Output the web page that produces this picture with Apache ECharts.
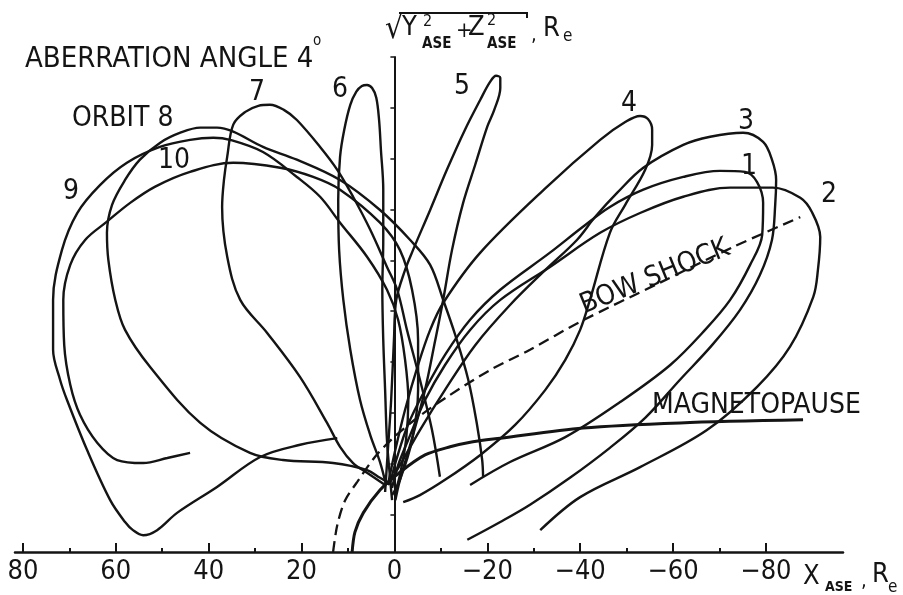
<!DOCTYPE html>
<html><head><meta charset="utf-8">
<script src="https://cdn.jsdelivr.net/npm/echarts@6/dist/echarts.min.js"></script>
<style>html,body{margin:0;padding:0;background:#fff}#c{width:903px;height:595px}</style>
</head><body><div id="c"></div>
<script>
const FONT = "'DejaVu Sans Condensed','Liberation Sans Narrow','Arial Narrow',sans-serif";
const INK = '#141414';

// axis ticks / labels
const xMajorTicks = [80, 60, 40, 20, 0, -20, -40, -60, -80];
const xMinorTicks = [70, 50, 30, 10, -10, -30, -50, -70];
const yTicks = [7.4, 17.4, 27.4, 37.4, 47.4, 57.4, 67.4, 77.4, 87.4, 97.4];

// orbit traces: [X_ASE, sqrt(Y^2+Z^2)] in Re
const orbit1 = [[0.9,13.6],[-0.4,18.1],[-2.9,25.0],[-6.6,31.9],[-10.9,38.8],[-16.3,45.7],[-22.8,51.6],[-33.5,58.9],[-40.6,64.0],[-46.4,67.9],[-53.6,71.3],[-62.2,73.8],[-70.1,75.0],[-75.5,74.8],[-78.1,72.8],[-79.4,68.7],[-79.2,62.4],[-76.6,56.5],[-72.3,49.6],[-66.9,43.7],[-59.4,36.8],[-48.6,29.5],[-36.8,22.6],[-24.9,17.7],[-16.3,13.2]];
const orbit2 = [[0.5,12.6],[-0.8,17.1],[-3.4,23.0],[-6.6,29.9],[-10.9,36.8],[-16.3,43.7],[-22.8,49.6],[-33.5,56.1],[-44.3,62.8],[-52.9,66.7],[-62.2,69.9],[-72.3,71.7],[-81.5,71.7],[-87.4,69.7],[-89.9,66.9],[-91.7,62.0],[-91.2,55.5],[-90.2,50.2],[-85.2,40.4],[-78.1,32.5],[-67.3,24.0],[-52.9,16.7],[-40.0,10.8],[-31.4,4.3]];
const orbit3 = [[1.4,13.2],[-1.2,17.1],[-5.5,24.0],[-10.9,31.9],[-17.4,40.7],[-24.9,48.6],[-32.5,55.5],[-39.3,61.4],[-43.2,65.9],[-48.0,70.7],[-53.6,75.6],[-62.2,80.1],[-68.0,81.7],[-75.1,82.5],[-79.4,80.7],[-81.3,77.2],[-82.2,73.2],[-82.0,68.3],[-81.3,61.4],[-78.7,54.5],[-74.4,47.6],[-68.4,40.7],[-61.5,33.9],[-54.0,26.4],[-46.4,20.5],[-37.8,14.6],[-29.2,9.3],[-22.8,5.9],[-15.7,2.4]];
const orbit4 = [[1.4,13.2],[-0.2,20.1],[-2.3,28.0],[-5.1,36.8],[-7.7,43.7],[-10.5,49.0],[-18.5,58.9],[-32.9,71.9],[-44.3,81.1],[-49.7,84.6],[-52.9,85.8],[-54.6,85.2],[-55.5,83.1],[-55.5,80.1],[-54.0,75.2],[-49.7,68.3],[-46.4,62.8],[-42.1,49.6],[-40.0,43.7],[-36.8,37.8],[-32.5,31.9],[-26.0,25.0],[-18.5,19.1],[-10.9,14.2],[-5.5,11.2],[-1.9,9.8]];
const orbit5 = [[2.0,11.8],[1.4,20.1],[0.7,29.9],[0.1,41.7],[-0.4,49.6],[-2.3,55.5],[-4.0,59.4],[-7.7,67.3],[-11.3,75.2],[-15.2,83.1],[-18.5,89.0],[-20.6,92.5],[-21.9,93.7],[-22.8,93.3],[-22.8,91.3],[-21.5,87.0],[-20.0,83.7],[-17.4,76.2],[-14.8,68.7],[-12.4,59.4],[-10.5,49.6],[-8.8,41.7],[-6.6,31.9],[-4.0,23.0],[-1.2,14.2],[-0.2,10.2]];
const orbit6 = [[1.8,13.2],[3.1,17.7],[5.2,23.0],[7.4,29.9],[9.5,39.8],[11.0,49.6],[11.9,59.4],[12.1,69.3],[11.7,77.8],[10.8,83.1],[9.5,88.0],[8.2,90.6],[7.0,91.7],[5.9,91.9],[4.8,91.3],[3.9,89.4],[3.3,85.0],[2.9,79.1],[2.4,71.3],[2.4,61.4],[2.6,51.6],[2.4,41.7],[2.0,31.9],[1.6,22.0],[0.9,14.2],[0.5,10.2]];
const orbit7 = [[2.0,13.2],[5.9,15.6],[8.9,17.5],[11.7,20.7],[14.5,25.4],[20.3,34.4],[27.4,43.1],[33.2,49.6],[36.0,58.1],[37.1,67.9],[36.7,73.2],[36.0,77.8],[34.7,84.1],[32.1,86.6],[29.3,87.8],[26.8,88.0],[23.8,87.0],[21.0,85.0],[16.0,79.7],[12.3,75.2],[8.9,69.9],[5.2,63.4],[1.6,56.1],[-0.6,51.6],[-2.7,43.7],[-5.5,33.9],[-8.1,24.0],[-9.8,14.8]];
const orbit8 = [[0.5,13.2],[3.1,14.6],[5.9,16.1],[13.2,17.5],[24.0,18.1],[31.1,19.5],[41.8,25.4],[52.6,36.4],[58.0,43.7],[60.1,49.6],[61.6,57.5],[61.9,62.8],[60.8,68.3],[58.0,73.2],[54.8,77.2],[50.5,80.5],[46.1,82.5],[41.8,83.5],[38.2,83.5],[34.7,82.7],[28.3,79.7],[21.0,77.2],[11.7,73.2],[3.1,67.3],[-3.4,61.4],[-7.7,56.5],[-10.5,49.6],[-13.1,42.7],[-15.9,33.9],[-17.8,25.0],[-18.9,18.1],[-19.1,14.8]];
const orbit9 = [[-0.2,11.8],[-1.2,15.2],[-2.5,22.0],[-3.0,29.9],[-2.3,37.8],[-0.8,45.7],[1.6,51.6],[5.9,58.1],[11.7,64.8],[16.0,69.9],[21.0,73.8],[28.3,78.7],[35.4,81.1],[39.0,81.5],[44.0,81.1],[50.5,79.7],[57.6,76.6],[63.4,72.2],[68.3,66.7],[71.6,59.4],[73.5,49.6],[73.5,39.8],[72.0,33.9],[70.5,29.9],[66.2,20.1],[61.2,10.2],[58.0,5.9],[56.3,4.3],[54.1,3.3],[51.1,4.3],[46.8,7.7],[38.2,12.8],[28.9,18.7],[20.3,21.1],[12.3,22.4]];
const orbit10 = [[44.0,19.5],[48.9,18.5],[54.1,17.5],[59.7,18.1],[64.0,21.5],[67.7,27.0],[69.8,32.9],[71.1,40.7],[71.3,49.6],[69.8,56.5],[66.6,61.4],[61.9,65.0],[56.9,68.7],[51.5,71.9],[44.0,74.8],[34.7,76.6],[24.6,75.6],[17.5,73.8],[11.7,71.3],[3.1,64.8],[-1.2,59.4],[-3.8,51.6],[-5.1,41.7],[-5.1,31.9],[-3.8,22.0],[-1.2,14.2],[0.5,11.2]];
const bowShock = [[13.2,0],[12.3,5.3],[10.6,10.2],[8.0,13.8],[4.2,18.7],[0.1,22.6],[-5.5,26.8],[-11.3,30.5],[-20.6,35.8],[-29.2,39.8],[-40.0,45.3],[-57.2,53.0],[-72.9,60.0],[-87.4,65.9]];
const magnetopause = [[9.1,0],[8.5,3.9],[6.7,7.7],[3.1,12.2],[-1.2,15.7],[-6.6,19.1],[-12.0,20.7],[-16.9,21.7],[-22.8,22.4],[-40.6,24.4],[-61.5,25.4],[-88.0,26.0]];

const orbits = [
  ['Orbit 1', orbit1], ['Orbit 2', orbit2], ['Orbit 3', orbit3], ['Orbit 4', orbit4], ['Orbit 5', orbit5],
  ['Orbit 6', orbit6], ['Orbit 7', orbit7], ['Orbit 8', orbit8], ['Orbit 9', orbit9], ['Orbit 10', orbit10]
];

function fmt(v) { return v < 0 ? '\u2212' + (-v) : String(v); }

const series = orbits.map(([name, data]) => ({
  name, type: 'line', data, symbol: 'none', smooth: 0.35, clip: false,
  lineStyle: { color: INK, width: 2.4 }, silent: true
}));
series.push({ name: 'Bow shock', type: 'line', data: bowShock, symbol: 'none', smooth: 0.3,
  lineStyle: { color: INK, width: 2.3, type: [11, 6] }, silent: true });
series.push({ name: 'Magnetopause', type: 'line', data: magnetopause, symbol: 'none', smooth: 0.3,
  lineStyle: { color: INK, width: 3 }, silent: true });

function T(text, x, y, size, o) {
  o = o || {};
  return { type: 'text', x, y, rotation: o.rot || 0, z: 100,
    style: { text, fill: INK, font: (o.bold ? 'bold ' : '') + size + 'px ' + FONT,
      align: o.align || 'left', verticalAlign: 'middle' } };
}

const graphic = [
  T('ABERRATION ANGLE 4', 25, 59, 29),
  T('o', 313, 41, 15),
  T('ORBIT 8', 72, 119, 28),
  T('7', 257, 93, 28, {align:'center'}),
  T('6', 340, 90, 28, {align:'center'}),
  T('5', 462, 87, 28, {align:'center'}),
  T('4', 629, 104, 28, {align:'center'}),
  T('3', 746, 122, 28, {align:'center'}),
  T('1', 749, 167, 28, {align:'center'}),
  T('2', 829, 195, 28, {align:'center'}),
  T('9', 71, 192, 28, {align:'center'}),
  T('10', 174, 161, 28, {align:'center'}),
  T('BOW SHOCK', 655, 277, 28, {align:'center', rot: 22 * Math.PI / 180}),
  T('MAGNETOPAUSE', 652, 406, 28),
  // x-axis name
  T('X', 803, 577, 27),
  T('ASE', 825, 587, 14, {bold:true}),
  T(',', 861, 582, 20),
  T('R', 872, 575, 27),
  T('e', 888, 588, 17),
  // y-axis name
  T('\u221A', 385, 30, 32),
  { type: 'polyline', z: 100, shape: { points: [[399, 13], [527, 13], [527, 18]] }, style: { stroke: INK, lineWidth: 2, fill: null } },
  T('Y', 402, 28, 27),
  T('2', 423, 22, 16),
  T('ASE', 422, 44, 15, {bold:true}),
  T('+', 456, 31, 22),
  T('Z', 468, 28, 27),
  T('2', 487, 21, 16),
  T('ASE', 487, 44, 15, {bold:true}),
  T(',', 531, 36, 20),
  T('R', 543, 29, 27),
  T('e', 563, 37, 17)
];

const chart = echarts.init(document.getElementById('c'), null, { renderer: 'canvas' });
chart.setOption({
  animation: false,
  backgroundColor: '#fff',
  grid: { left: 15, right: 60, top: 57, bottom: 43, containLabel: false },
  xAxis: [
    { type: 'value', inverse: true, min: -96.6, max: 81.7, position: 'bottom',
      axisLine: { show: true, onZero: false, lineStyle: { color: INK, width: 2.5 } },
      axisTick: { show: true, inside: true, length: 9, customValues: xMajorTicks, lineStyle: { color: INK, width: 2 } },
      axisLabel: { show: true, customValues: xMajorTicks, formatter: fmt, color: INK, fontSize: 27, fontFamily: FONT, margin: 6 },
      splitLine: { show: false } },
    { type: 'value', inverse: true, min: -96.6, max: 81.7, position: 'bottom',
      axisLine: { show: false, onZero: false },
      axisTick: { show: true, inside: true, length: 4, customValues: xMinorTicks, lineStyle: { color: INK, width: 2 } },
      axisLabel: { show: false }, splitLine: { show: false } }
  ],
  yAxis: { type: 'value', min: 0, max: 97.4,
    axisLine: { show: true, onZero: true, onZeroAxisIndex: 0, lineStyle: { color: INK, width: 2 } },
    axisTick: { show: true, length: 4, customValues: yTicks, lineStyle: { color: INK, width: 1.5 } },
    axisLabel: { show: false }, splitLine: { show: false } },
  series,
  graphic
});
</script></body></html>
